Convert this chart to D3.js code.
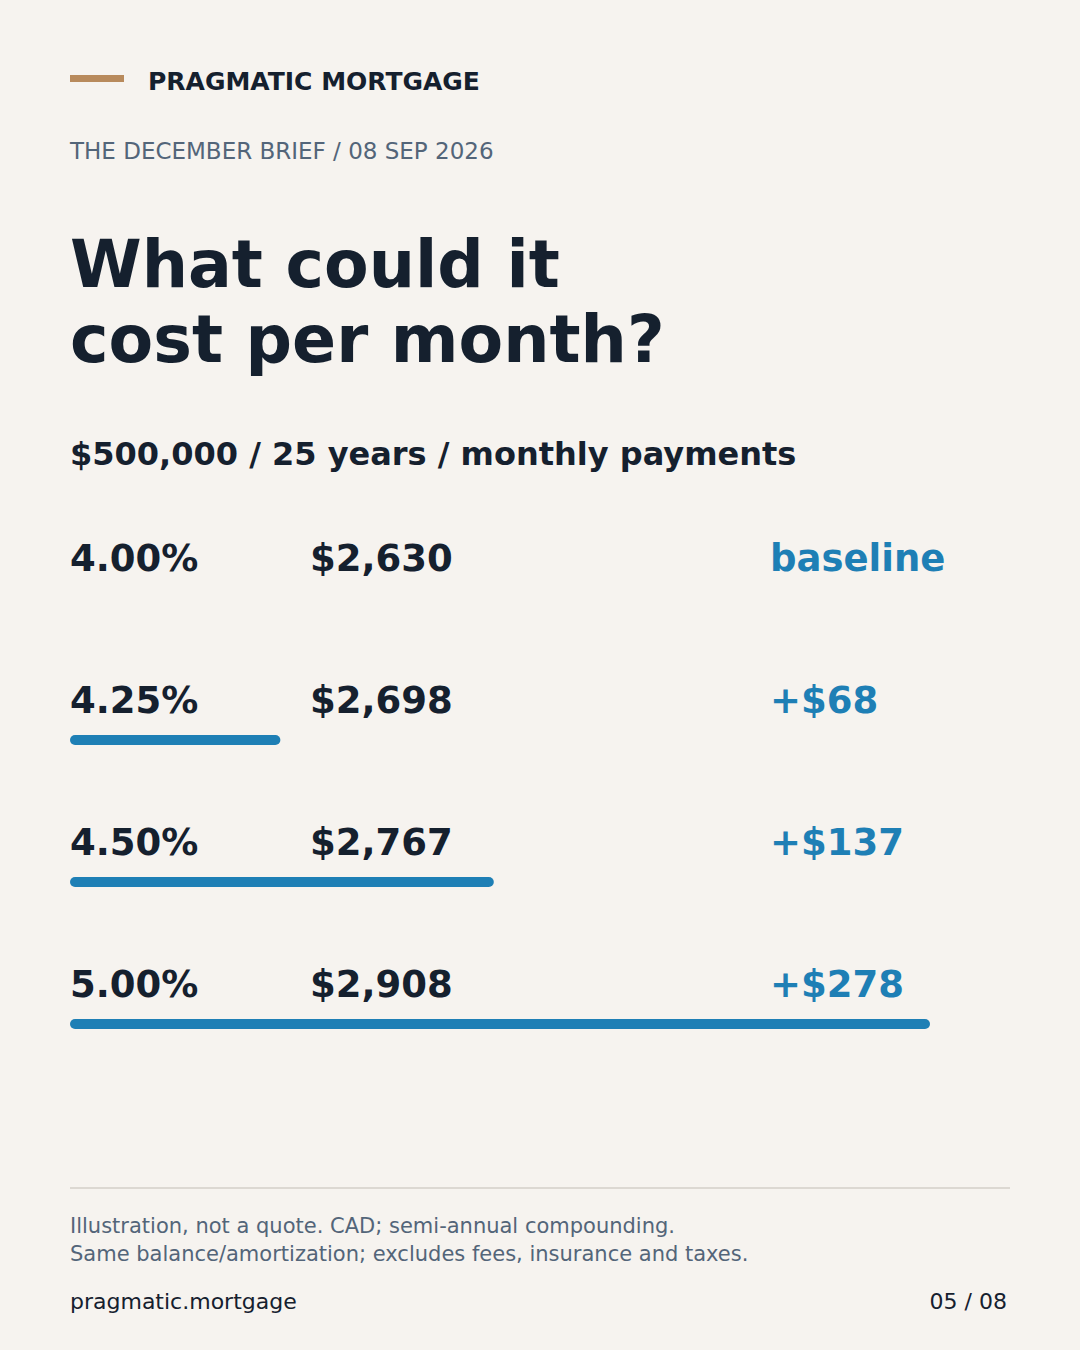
<!DOCTYPE html>
<html>
<head>
<meta charset="utf-8">
<script src="https://cdn.jsdelivr.net/npm/d3@7"></script>
<style>
  html, body { margin: 0; padding: 0; background: #f6f3ef; }
  svg { display: block; }
  text { font-family: "DejaVu Sans", sans-serif; }
</style>
</head>
<body>
<svg id="chart" width="1080" height="1350"></svg>
<script>
// monthly payments on $500,000 over 25 years
const rates = ["4.00%", "4.25%", "4.50%", "5.00%"];
const payments = [2630, 2698, 2767, 2908];
const deltas = [0, 68, 137, 278];
const deltaLabels = ["baseline", "+$68", "+$137", "+$278"];
const notes = [
  "Illustration, not a quote. CAD; semi-annual compounding.",
  "Same balance/amortization; excludes fees, insurance and taxes."
];

const dark = "#15202e";
const blue = "#1e7fb5";
const grey = "#536579";

const svg = d3.select("#chart");
svg.append("rect").attr("width", 1080).attr("height", 1350).attr("fill", "#f6f3ef");

// header
svg.append("rect").attr("x", 70).attr("y", 75).attr("width", 54).attr("height", 7).attr("fill", "#b88a5c");
svg.append("text").attr("x", 148).attr("y", 90)
  .attr("font-size", 25).attr("font-weight", "bold").attr("fill", dark)
  .text("PRAGMATIC MORTGAGE");
svg.append("text").attr("x", 70).attr("y", 159)
  .attr("font-size", 23).attr("fill", grey)
  .text("THE DECEMBER BRIEF / 08 SEP 2026");

const title = svg.append("text").attr("font-size", 65).attr("font-weight", "bold").attr("fill", dark);
title.append("tspan").attr("x", 70).attr("y", 287).text("What could it");
title.append("tspan").attr("x", 70).attr("y", 362).text("cost per month?");

svg.append("text").attr("x", 70).attr("y", 465)
  .attr("font-size", 32).attr("font-weight", "bold").attr("fill", dark)
  .text("$500,000 / 25 years / monthly payments");

// rows
const y = d3.scalePoint().domain(rates).range([571, 997]);
const x = d3.scaleLinear().domain([0, d3.max(deltas)]).range([70, 930]);
const fmt = d3.format("$,");

const rows = svg.selectAll("g.row")
  .data(rates.map((r, i) => ({ rate: r, pay: payments[i], delta: deltas[i], label: deltaLabels[i] })))
  .enter().append("g").attr("class", "row")
  .attr("transform", d => `translate(0,${y(d.rate)})`);

rows.append("text").attr("x", 70).attr("font-size", 37).attr("font-weight", "bold").attr("fill", dark)
  .text(d => d.rate);
rows.append("text").attr("x", 310).attr("font-size", 37).attr("font-weight", "bold").attr("fill", dark)
  .text(d => fmt(d.pay));
rows.append("text").attr("x", 770).attr("font-size", 37).attr("font-weight", "bold").attr("fill", blue)
  .text(d => d.label);
rows.filter(d => d.delta > 0).append("rect")
  .attr("x", x(0)).attr("y", 22)
  .attr("width", d => x(d.delta) - x(0)).attr("height", 10)
  .attr("rx", 5).attr("fill", blue);

// footer
svg.append("line").attr("x1", 70).attr("x2", 1010).attr("y1", 1188).attr("y2", 1188)
  .attr("stroke", "#dcd8d2").attr("stroke-width", 2);
svg.selectAll("text.note").data(notes).enter().append("text").attr("class", "note")
  .attr("x", 70).attr("y", (d, i) => 1233 + i * 28)
  .attr("font-size", 21).attr("fill", grey)
  .text(d => d);
svg.append("text").attr("x", 70).attr("y", 1309)
  .attr("font-size", 22).attr("fill", dark).text("pragmatic.mortgage");
svg.append("text").attr("x", 1007).attr("y", 1309).attr("text-anchor", "end")
  .attr("font-size", 22).attr("fill", dark).text("05 / 08");
</script>
</body>
</html>
